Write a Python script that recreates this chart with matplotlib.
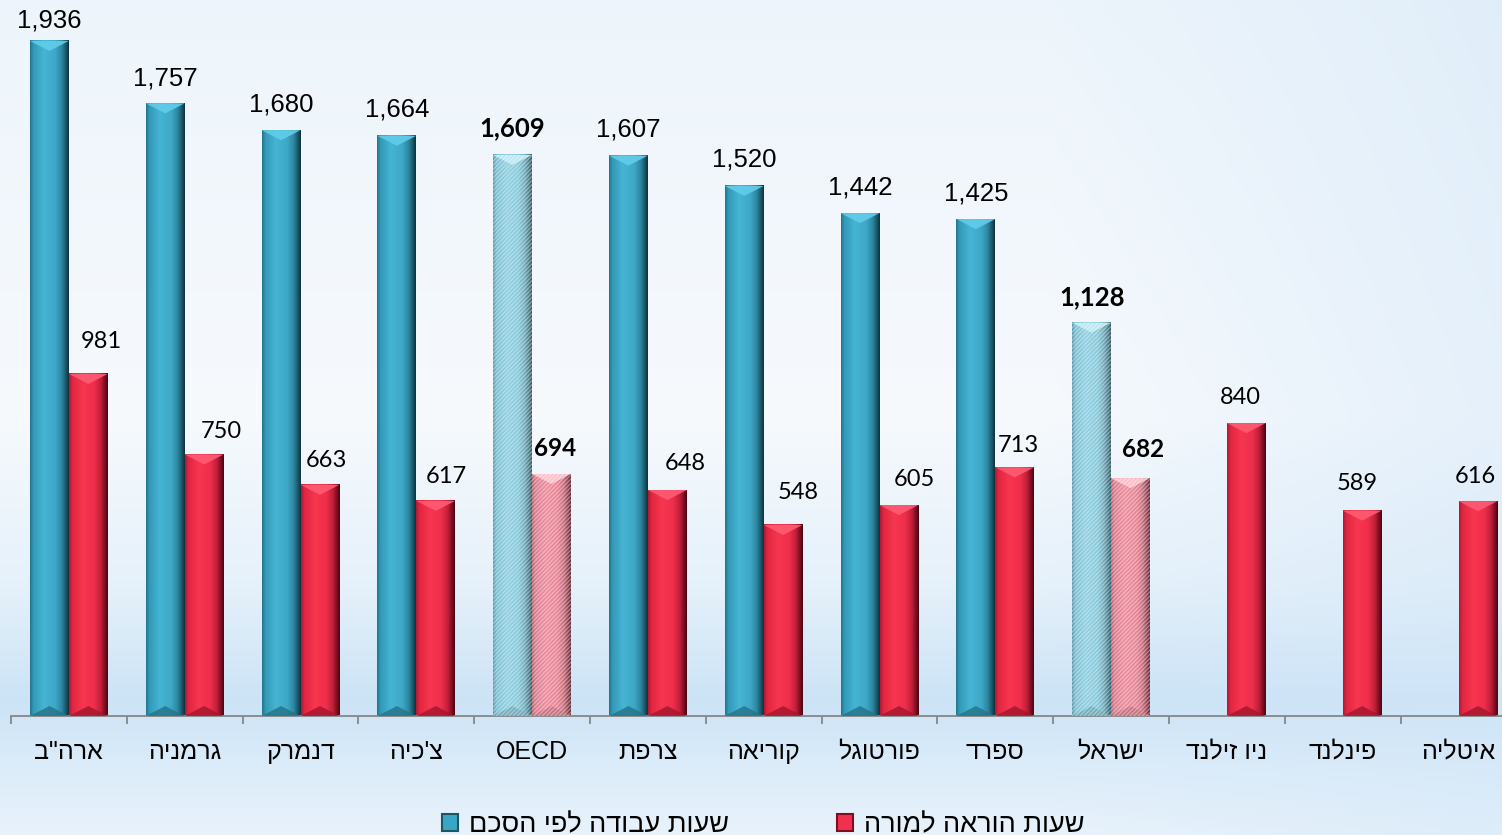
import matplotlib

matplotlib.use("Agg")
import matplotlib.pyplot as plt
import numpy as np
from matplotlib.patches import Patch, Polygon, Rectangle


# data (hours per year)
CATEGORIES = ['ארה"ב', "גרמניה", "דנמרק", "צ'כיה", "OECD", "צרפת", "קוריאה",
              "פורטוגל", "ספרד", "ישראל", "ניו זילנד", "פינלנד", "איטליה"]
WORK_HOURS = [1936, 1757, 1680, 1664, 1609, 1607, 1520, 1442, 1425, 1128,
              np.nan, np.nan, np.nan]
TEACH_HOURS = [981, 750, 663, 617, 694, 648, 548, 605, 713, 682, 840, 589, 616]
HIGHLIGHT = ["OECD", "ישראל"]
SERIES_NAMES = ["שעות עבודה לפי הסכם", "שעות הוראה למורה"]

# hand placed label nudges from the original slide (pixels)
TEACH_LABEL_DX = [13, 17, 6, 11, 4, 18, 15, 15, 4, 13, -6, -5, -3]
TEACH_LABEL_DY = [32, 23, 24, 24, 26, 27, 32, 26, 22, 29, 26, 27, 25]
WORK_LABEL_DY = [20, 25, 26, 26, 27, 26, 26, 26, 26, 26]

W_PX, H_PX, DPI = 1502, 835, 100
BASE_PX = 716          # y of the category axis
PX_PER_HOUR = 0.3487
CAT_PX = 115.8
FIRST_TICK_PX = 11

BLUE = {"stops": [(0.0, "#237590"), (0.08, "#3299b6"), (0.35, "#46b4d4"),
                  (0.65, "#3ea8c7"), (0.82, "#2d87a1"), (0.93, "#1b5566"), (1.0, "#0f3540")],
        "top": "#62cdeb", "bottom": "#247288"}
RED = {"stops": [(0.0, "#b01a36"), (0.08, "#e0263f"), (0.35, "#f7354f"),
                 (0.65, "#ee2f4b"), (0.82, "#c21f3a"), (0.93, "#7d0e22"), (1.0, "#4a0712")],
       "top": "#ff5c74", "bottom": "#a3152f"}
BLUE_LIGHT = {"stops": [(0.0, "#5a9aab"), (0.08, "#7cc0d3"), (0.35, "#90d0e2"),
                        (0.65, "#88cadc"), (0.82, "#72acbc"), (0.93, "#4f7f8b"), (1.0, "#355a63")],
              "top": "#c2ecf7", "bottom": "#6ea5b4"}
RED_LIGHT = {"stops": [(0.0, "#b2606e"), (0.08, "#dc7d8e"), (0.35, "#ee8c9c"),
                       (0.65, "#e88595"), (0.82, "#c86f7e"), (0.93, "#914653"), (1.0, "#62303a")],
             "top": "#ffc6d0", "bottom": "#bd6e7c"}

HEB_FONT = ["Liberation Sans", "DejaVu Sans"]


def visual(text: str) -> str:
    # matplotlib has no bidi support, so hebrew runs are flipped by hand
    if any("\u0590" <= ch <= "\u05ff" for ch in text):
        return text[::-1]
    return text


def gradient_row(stops, n=60):
    pos = [p for p, _ in stops]
    rgb = np.array([matplotlib.colors.to_rgb(c) for _, c in stops])
    t = np.linspace(0, 1, n)
    return np.stack([np.interp(t, pos, rgb[:, k]) for k in range(3)], axis=-1)


def draw_background(fig):
    bg = fig.add_axes([0, 0, 1, 1], zorder=-10)
    bg.set_axis_off()
    ys = np.linspace(0, 1, 200)
    xs = np.linspace(0, 1, 300)
    v_pos = [0.0, 0.5, 0.7, 0.84, 0.92, 1.0]
    v_col = np.array([[0.93, 0.96, 0.985], [0.965, 0.978, 0.992], [0.90, 0.945, 0.982],
                      [0.80, 0.89, 0.965], [0.86, 0.925, 0.978], [0.91, 0.95, 0.985]])
    col = np.stack([np.interp(ys, v_pos, v_col[:, k]) for k in range(3)], axis=-1)
    img = np.repeat(col[:, None, :], len(xs), axis=1)
    tint = np.clip((xs - 0.7) / 0.3, 0, 1)[None, :, None] * 0.45
    img = img * (1 - tint) + np.array([0.82, 0.90, 0.97]) * tint
    bg.imshow(img, extent=(0, 1, 0, 1), aspect="auto", origin="upper")
    bg.set_xlim(0, 1)
    bg.set_ylim(0, 1)


def style_bar(ax, rect, style, bevel, hatched):
    x0, w, h = rect.get_x(), rect.get_width(), rect.get_height()
    if not np.isfinite(h) or h <= 0:
        return
    rect.set_visible(False)
    grad = gradient_row(style["stops"])[None, :, :]
    ax.imshow(grad, extent=(x0, x0 + w, 0, h), aspect="auto", zorder=2,
              interpolation="bilinear")
    xc = x0 + w / 2
    ax.add_patch(Polygon([(x0, h), (x0 + w, h), (xc, h - bevel)], closed=True,
                         facecolor=style["top"], edgecolor="none", alpha=0.9, zorder=3))
    ax.add_patch(Polygon([(x0, 0), (x0 + w, 0), (xc, bevel)], closed=True,
                         facecolor=style["bottom"], edgecolor="none", alpha=0.8, zorder=3))
    if hatched:
        ax.add_patch(Rectangle((x0, 0), w, h, facecolor="none",
                               edgecolor=(1, 1, 1, 0.38), hatch="////////",
                               linewidth=0, zorder=4))


def main():
    plt.rcParams["hatch.linewidth"] = 0.9
    fig = plt.figure(figsize=(W_PX / DPI, H_PX / DPI), dpi=DPI)
    draw_background(fig)

    bottom = (H_PX - BASE_PX) / H_PX
    ax = fig.add_axes([0, bottom, 1, 1 - bottom])
    ax.patch.set_alpha(0)
    ymax = BASE_PX / PX_PER_HOUR
    x_left = -0.5 - FIRST_TICK_PX / CAT_PX
    bevel = 10 / PX_PER_HOUR

    x = np.arange(len(CATEGORIES))
    width = 0.335
    work_bars = ax.bar(x - 0.168, WORK_HOURS, width, zorder=1)
    teach_bars = ax.bar(x + 0.168, TEACH_HOURS, width, zorder=1)

    for i, cat in enumerate(CATEGORIES):
        hl = cat in HIGHLIGHT
        style_bar(ax, work_bars[i], BLUE_LIGHT if hl else BLUE, bevel, hl)
        style_bar(ax, teach_bars[i], RED_LIGHT if hl else RED, bevel, hl)

    px2pt = 72 / DPI
    for i, (cat, val) in enumerate(zip(CATEGORIES, WORK_HOURS)):
        if not np.isfinite(val):
            continue
        hl = cat in HIGHLIGHT
        ax.annotate(f"{int(val):,}", (x[i] - 0.168, val), textcoords="offset points",
                    xytext=(0, WORK_LABEL_DY[i] * px2pt), ha="center", va="center",
                    fontsize=18.5,
                    family="Lato" if hl else "Liberation Sans",
                    fontweight="bold" if hl else "normal", color="black",
                    annotation_clip=False, zorder=6)
    for i, (cat, val) in enumerate(zip(CATEGORIES, TEACH_HOURS)):
        hl = cat in HIGHLIGHT
        ax.annotate(f"{int(val):,}", (x[i] + 0.168, val), textcoords="offset points",
                    xytext=(TEACH_LABEL_DX[i] * px2pt, TEACH_LABEL_DY[i] * px2pt),
                    ha="center", va="center", fontsize=17.5 if hl else 17, family="Lato",
                    fontweight="bold" if hl else "normal", color="black",
                    annotation_clip=False, zorder=6)

    for side in ("top", "right", "left"):
        ax.spines[side].set_visible(False)
    ax.spines["bottom"].set_color("#8c8c8c")
    ax.spines["bottom"].set_linewidth(1.4)
    ax.spines["bottom"].set_bounds(-0.5, len(CATEGORIES) - 0.5)
    ax.set_yticks([])
    ax.set_xticks(x)
    ax.set_xticklabels([visual(c) for c in CATEGORIES], fontsize=18, family=HEB_FONT)
    ax.tick_params(axis="x", which="major", length=0, pad=17)
    ax.set_xticks(np.arange(len(CATEGORIES)) - 0.5, minor=True)
    ax.tick_params(axis="x", which="minor", length=6, width=1.4, color="#8c8c8c")
    # limits last: set_xticks would otherwise widen the view
    ax.set_xlim(x_left, x_left + W_PX / CAT_PX)
    ax.set_ylim(0, ymax)

    handles = [Patch(facecolor="#3aa6c5", edgecolor="#1b5566", linewidth=1.5),
               Patch(facecolor="#f1304d", edgecolor="#7d0e22", linewidth=1.5)]
    fig.legend(handles, [visual(s) for s in SERIES_NAMES], loc="center",
               bbox_to_anchor=(0.508, 0.012), ncol=2, frameon=False,
               handlelength=0.6, handleheight=0.6, handletextpad=0.4,
               columnspacing=4.0, prop={"family": HEB_FONT, "size": 19.5})

    fig.savefig("out.png", dpi=DPI)
    plt.close(fig)


if __name__ == "__main__":
    main()
